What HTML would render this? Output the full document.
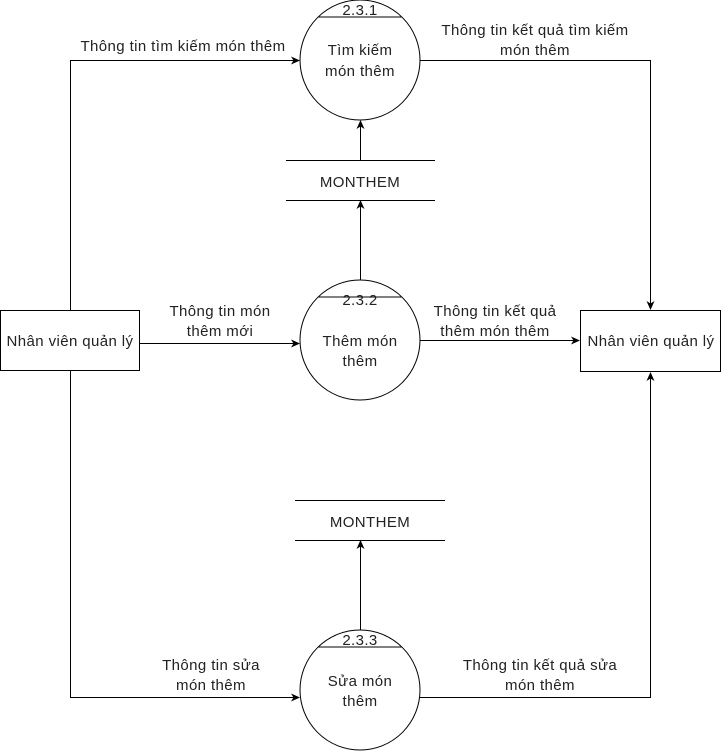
<!DOCTYPE html>
<html><head><meta charset="utf-8"><style>body{margin:0;background:#fff}</style></head><body>
<svg width="721" height="751" xmlns="http://www.w3.org/2000/svg" font-family="Liberation Sans, sans-serif" font-size="15" letter-spacing="0.4" fill="#222">
<defs><marker id="a" markerWidth="10" markerHeight="10" refX="8" refY="5" orient="auto" markerUnits="userSpaceOnUse"><path d="M0,1 L9,5 L0,9 L2.5,5 Z" fill="#000"/></marker></defs>
<g stroke="#000" fill="none" stroke-width="1">
<circle cx="360" cy="60" r="60"/><line x1="318" y1="17" x2="402" y2="17"/>
<circle cx="360" cy="340" r="60"/><line x1="318" y1="297" x2="402" y2="297"/>
<circle cx="360" cy="690" r="60"/><line x1="318" y1="647" x2="402" y2="647"/>
<rect x="0.5" y="310.5" width="139" height="60"/>
<rect x="580.5" y="310.5" width="140" height="61"/>
<line x1="286" y1="160.5" x2="435" y2="160.5"/><line x1="286" y1="200.5" x2="435" y2="200.5"/>
<line x1="295" y1="500.5" x2="445" y2="500.5"/><line x1="295" y1="540.5" x2="445" y2="540.5"/>
<path d="M70.5,310 V60.5 H299" marker-end="url(#a)"/>
<path d="M420,60.5 H650.5 V309" marker-end="url(#a)"/>
<path d="M139,343.5 H299" marker-end="url(#a)"/>
<path d="M420,340.5 H579" marker-end="url(#a)"/>
<path d="M360.5,280 V201" marker-end="url(#a)"/>
<path d="M360.5,160 V121" marker-end="url(#a)"/>
<path d="M70.5,371 V697.5 H299" marker-end="url(#a)"/>
<path d="M360.5,630 V541" marker-end="url(#a)"/>
<path d="M420,697.5 H650.5 V373" marker-end="url(#a)"/>
</g>
<g text-anchor="middle">
<text x="360" y="15">2.3.1</text><text x="360" y="55">Tìm kiếm</text><text x="360" y="76">món thêm</text>
<text x="360" y="305">2.3.2</text><text x="360" y="346">Thêm món</text><text x="360" y="366">thêm</text>
<text x="360" y="645">2.3.3</text><text x="360" y="686">Sửa món</text><text x="360" y="706">thêm</text>
<text x="70" y="346">Nhân viên quản lý</text><text x="651" y="346">Nhân viên quản lý</text>
<text x="360" y="187">MONTHEM</text><text x="370" y="527">MONTHEM</text>
<text x="183" y="51">Thông tin tìm kiếm món thêm</text>
<text x="535" y="35">Thông tin kết quả tìm kiếm</text><text x="535" y="55">món thêm</text>
<text x="220" y="316">Thông tin món</text><text x="220" y="336">thêm mới</text>
<text x="495" y="316">Thông tin kết quả</text><text x="495" y="336">thêm món thêm</text>
<text x="211" y="670">Thông tin sửa</text><text x="211" y="690">món thêm</text>
<text x="540" y="670">Thông tin kết quả sửa</text><text x="540" y="690">món thêm</text>
</g>
</svg>
</body></html>
